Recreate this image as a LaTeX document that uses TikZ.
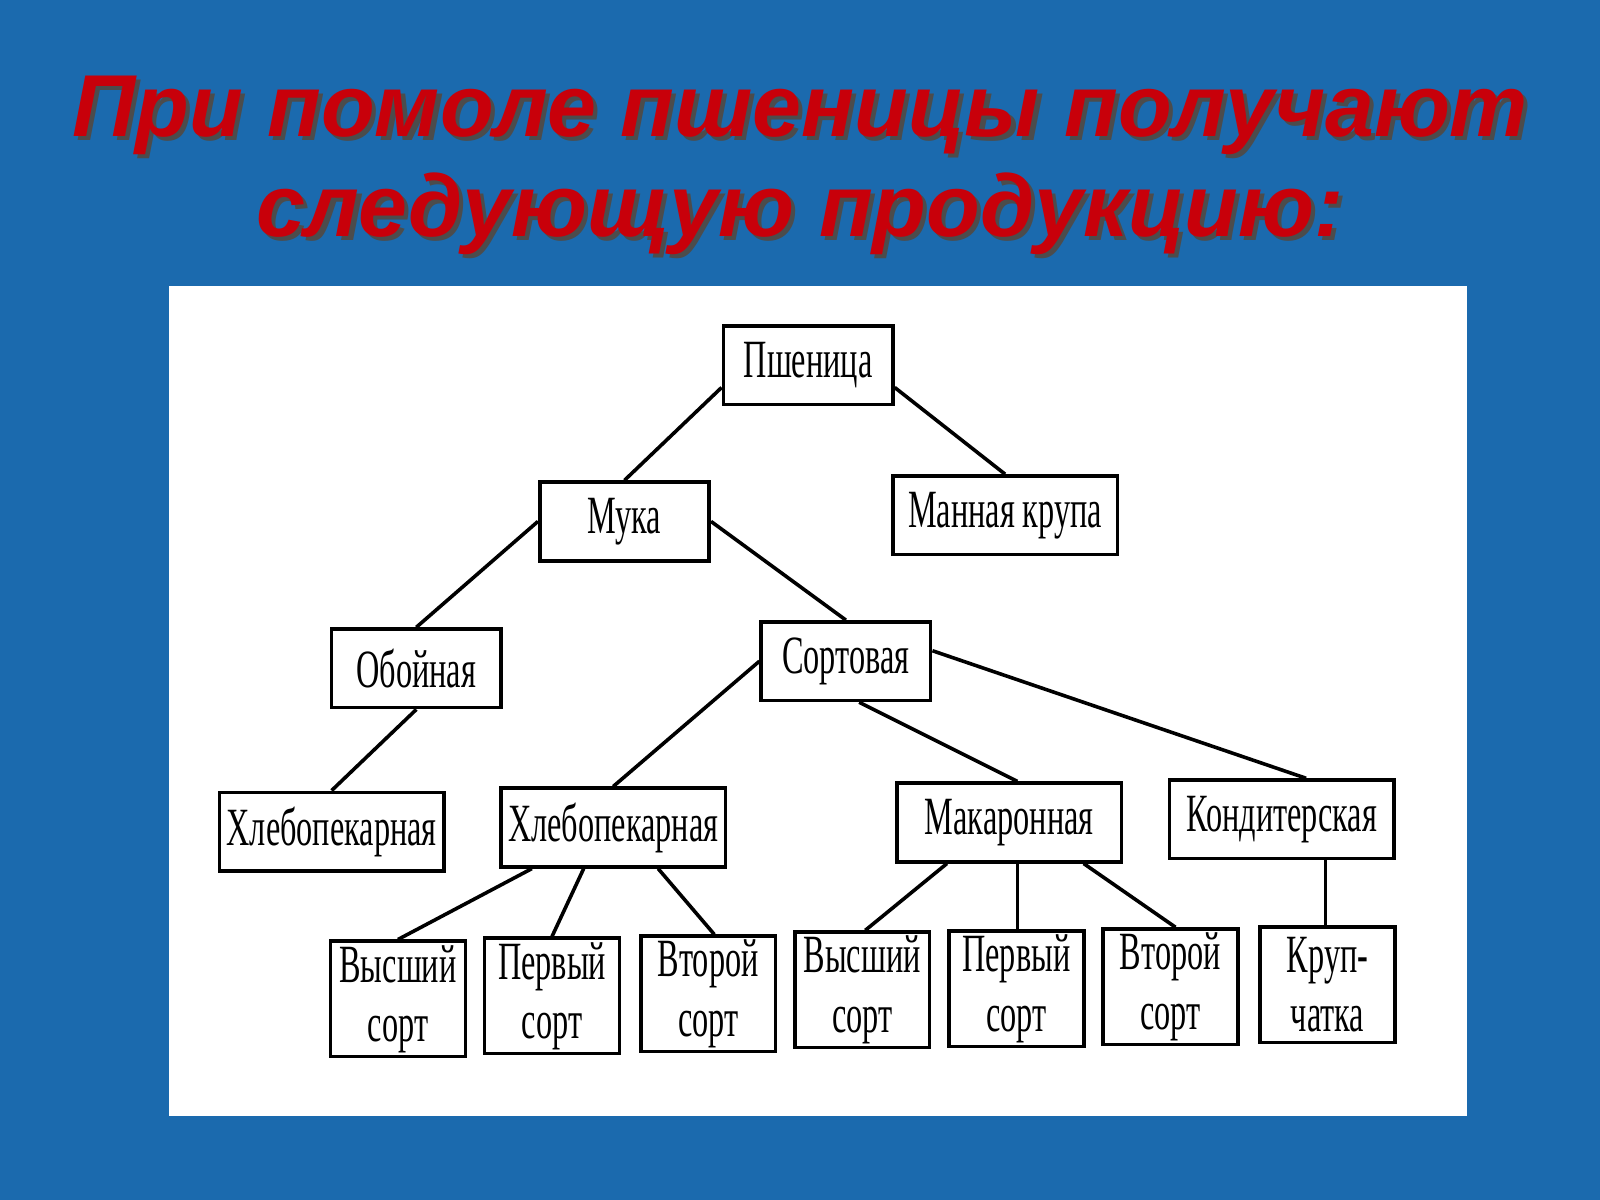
\documentclass[tikz,border=0pt]{standalone}
\usepackage{fontspec}
\setmainfont{Liberation Serif}
\newfontfamily\boxfont[FakeStretch=0.6]{Liberation Serif}
\newfontfamily\titlefont{Liberation Sans}
\usetikzlibrary{positioning,calc}
\definecolor{slideblue}{HTML}{1B6AAE}
\definecolor{titlered}{HTML}{C8000A}
\tikzset{
  box/.style={draw, line width=1pt, fill=white, inner sep=0pt, align=center,
              font=\boxfont\fontsize{15}{16.5}\selectfont},
  wide/.style={box, minimum width=2.2cm, minimum height=0.77cm},
  mid/.style={box, minimum width=1.66cm, minimum height=0.77cm},
  leaf/.style={box, minimum width=1.32cm, minimum height=1.13cm},
  link/.style={line width=1pt},
}
\begin{document}
\begin{tikzpicture}[x=0.01cm, y=-0.01cm]
    \useasboundingbox (0,0) rectangle (1568,1176);
    \fill[slideblue] (0,0) rectangle (1568,1176);
    \fill[white] (166,280) rectangle (1438,1094);
    % title
    \foreach \dx/\col in {4/black!70, 0/titlered} {
      \node[text=\col, font=\titlefont\bfseries\itshape\fontsize{24.5}{30}\selectfont, align=center]
        at (784+\dx,162+\dx) {При помоле пшеницы получают\\[-2pt]следующую продукцию:};
    }
    % boxes
    \node[mid] (wheat) at (792,358) {Пшеница};
    \node[mid] (flour) at (612,511) {Мука};
    \node[wide] (semolina) at (985,505) {Манная крупа};
    \node[mid] (wholemeal) at (408,655) {Обойная};
    \node[mid] (graded) at (829,648) {Сортовая};
    \node[wide] (bakeA) at (325,815) {Хлебопекарная};
    \node[wide] (bakeB) at (601,811) {Хлебопекарная};
    \node[wide] (pasta) at (989,806) {Макаронная};
    \node[wide] (pastry) at (1256,803) {Кондитерская};
    \node[leaf] (topB) at (390,979) {Высший\\сорт};
    \node[leaf] (firstB) at (541,976) {Первый\\сорт};
    \node[leaf] (secondB) at (694,974) {Второй\\сорт};
    \node[leaf] (topP) at (845,970) {Высший\\сорт};
    \node[leaf] (firstP) at (996,969) {Первый\\сорт};
    \node[leaf] (secondP) at (1147,967) {Второй\\сорт};
    \node[leaf] (grits) at (1301,965) {Круп-\\чатка};
    % links
    \draw[link] ($(wheat.north west)+(0,62)$) -- (flour.north);
    \draw[link] ($(wheat.north east)+(0,62)$) -- (semolina.north);
    \draw[link] (flour.west) -- (wholemeal.north);
    \draw[link] (flour.east) -- (graded.north);
    \draw[link] (wholemeal.south) -- (bakeA.north);
    \draw[link] (graded.west) -- (bakeB.north);
    \draw[link] ($(graded.south)+(13,0)$) -- ($(pasta.north)+(8,0)$);
    \draw[link] ($(graded.north east)+(0,30)$) -- ($(pastry.north)+(24,0)$);
    \draw[link] ($(bakeB.south west)+(32,0)$) -- (topB.north);
    \draw[link] ($(bakeB.south)+(-29,0)$) -- (firstB.north);
    \draw[link] ($(bakeB.south)+(44,0)$) -- ($(secondB.north)+(6,0)$);
    \draw[link] ($(pasta.south)+(-61,0)$) -- ($(topP.north)+(3,0)$);
    \draw[link] ($(pasta.south)+(8,0)$) -- ($(firstP.north)+(1,0)$);
    \draw[link] ($(pasta.south)+(73,0)$) -- ($(secondP.north)+(5,0)$);
    \draw[link] ($(pastry.south)+(43,0)$) -- ($(grits.north)+(-2,0)$);
\end{tikzpicture}
\end{document}
